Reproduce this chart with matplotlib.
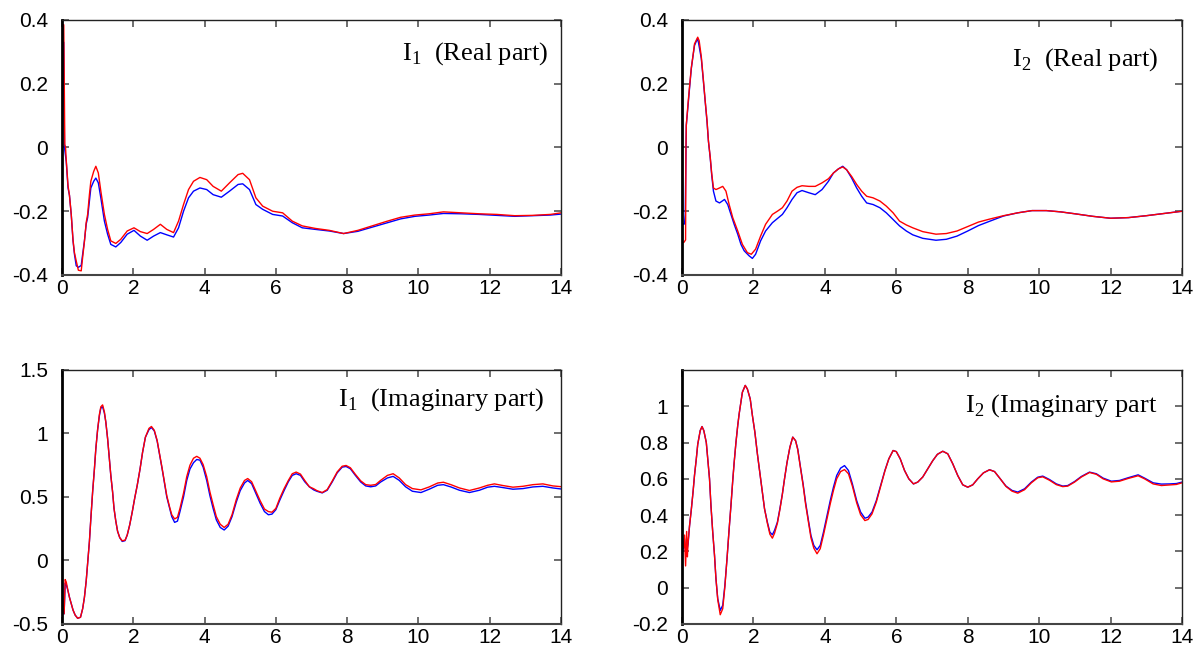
import matplotlib
matplotlib.use("Agg")
import matplotlib.pyplot as plt

plt.rcParams["font.family"] = ["Liberation Sans", "DejaVu Sans"]
plt.rcParams["axes.unicode_minus"] = False
plt.rcParams["mathtext.fontset"] = "custom"
plt.rcParams["mathtext.rm"] = "Liberation Serif"

# ---- I1 real part ----
x_r1_blue = [0, 0.03, 0.05, 0.07, 0.12, 0.17, 0.21, 0.26, 0.31, 0.35, 0.40, 0.46, 0.54, 0.58, 0.63,
             0.68, 0.72, 0.77, 0.81, 0.89, 0.95, 1.02, 1.09, 1.19, 1.28, 1.37, 1.51, 1.65, 1.83, 2.02,
             2.2, 2.39, 2.57, 2.76, 2.94, 3.13, 3.27, 3.41, 3.55, 3.69, 3.87, 4.06, 4.24, 4.47, 4.7,
             4.94, 5.07, 5.26, 5.44, 5.63, 5.91, 6.19, 6.46, 6.74, 7.11, 7.5, 7.9, 8.3, 8.7, 9.1,
             9.5, 9.9, 10.3, 10.7, 11.2, 11.7, 12.2, 12.7, 13.2, 13.7, 14.0]
r1_blue = [0.0, 0.33, 0.33, 0.0, -0.044, -0.127, -0.15, -0.21, -0.293, -0.335, -0.371, -0.376, -0.37, -0.335, -0.293,
           -0.24, -0.22, -0.168, -0.127, -0.106, -0.096, -0.111, -0.158, -0.231, -0.272, -0.304, -0.312, -0.298, -0.272, -0.26,
           -0.278, -0.291, -0.278, -0.267, -0.274, -0.281, -0.252, -0.2, -0.158, -0.137, -0.127, -0.132, -0.148, -0.156, -0.137,
           -0.116, -0.114, -0.132, -0.179, -0.194, -0.21, -0.215, -0.236, -0.252, -0.257, -0.262, -0.27, -0.263, -0.25, -0.237,
           -0.224, -0.216, -0.212, -0.207, -0.208, -0.21, -0.213, -0.216, -0.214, -0.212, -0.209]

x_r1_red = [0, 0.02, 0.05, 0.08, 0.1, 0.12] + x_r1_blue[5:]
r1_red = [0.36, 0.385, 0.385, 0.01, 0.0, -0.04, -0.12, -0.15, -0.21, -0.29, -0.33,
          -0.356, -0.385, -0.387, -0.345, -0.295, -0.235, -0.21, -0.148, -0.106, -0.075,
          -0.059, -0.08, -0.137, -0.21, -0.257, -0.293, -0.301, -0.288, -0.262, -0.252,
          -0.264, -0.27, -0.257, -0.241, -0.257, -0.267, -0.231, -0.179, -0.132, -0.106,
          -0.094, -0.101, -0.122, -0.137, -0.111, -0.085, -0.081, -0.101, -0.158, -0.184,
          -0.2, -0.205, -0.231, -0.246, -0.254, -0.26, -0.27, -0.26, -0.246, -0.232,
          -0.219, -0.212, -0.208, -0.202, -0.205, -0.208, -0.21, -0.214, -0.213, -0.21, -0.205]

# ---- I2 real part ----
x_r2_blue = [0, 0.01, 0.07, 0.09, 0.12, 0.17, 0.21, 0.26, 0.31, 0.35, 0.43, 0.46, 0.54, 0.6, 0.65,
             0.7, 0.74, 0.79, 0.83, 0.88, 0.95, 1.05, 1.19, 1.28, 1.37, 1.46, 1.56, 1.65, 1.74, 1.88,
             1.97, 2.06, 2.2, 2.34, 2.53, 2.67, 2.81, 2.94, 3.08, 3.22, 3.36, 3.55, 3.73, 3.92, 4.1,
             4.24, 4.38, 4.5, 4.61, 4.75, 4.89, 5.03, 5.17, 5.35, 5.54, 5.72, 5.91, 6.09, 6.28, 6.46,
             6.74, 7.11, 7.4, 7.7, 8.0, 8.3, 8.6, 9.0, 9.4, 9.8, 10.2, 10.6, 11.0, 11.5, 12.0,
             12.5, 13.0, 13.5, 14.0]
r2_blue = [0.008, -0.24, -0.24, -0.21, 0.07, 0.133, 0.185, 0.247, 0.289, 0.32, 0.341, 0.33, 0.279, 0.206, 0.143,
           0.081, 0.019, -0.033, -0.085, -0.137, -0.168, -0.174, -0.163, -0.179, -0.21, -0.241, -0.272, -0.304, -0.324, -0.34,
           -0.348, -0.335, -0.293, -0.262, -0.236, -0.223, -0.21, -0.189, -0.163, -0.142, -0.135, -0.142, -0.148, -0.132, -0.106,
           -0.08, -0.067, -0.059, -0.07, -0.096, -0.127, -0.153, -0.174, -0.179, -0.189, -0.205, -0.226, -0.246, -0.262, -0.274,
           -0.285, -0.291, -0.288, -0.278, -0.262, -0.245, -0.232, -0.215, -0.205, -0.198, -0.198, -0.202, -0.208, -0.216, -0.222,
           -0.22, -0.214, -0.207, -0.2]

x_r2_red = [0, 0.05, 0.1, 0.11, 0.12, 0.17, 0.21, 0.26, 0.31, 0.35, 0.44, 0.48, 0.54, 0.6, 0.65,
            0.7, 0.74, 0.79, 0.83, 0.88, 0.95, 1.05, 1.14, 1.23, 1.32, 1.42, 1.56, 1.69, 1.83, 1.94,
            2.06, 2.2, 2.34, 2.53, 2.67, 2.81, 2.94, 3.08, 3.22, 3.36, 3.55, 3.73, 3.92, 4.1, 4.24,
            4.38, 4.5, 4.61, 4.75, 4.89, 5.03, 5.17, 5.35, 5.54, 5.72, 5.91, 6.09, 6.28, 6.46, 6.74,
            7.11, 7.4, 7.7, 8.0, 8.3, 8.6, 9.0, 9.4, 9.8, 10.2, 10.6, 11.0, 11.5, 12.0, 12.5,
            13.0, 13.5, 14.0]
r2_red = [-0.298, -0.298, -0.29, 0.0, 0.07, 0.14, 0.19, 0.25, 0.29, 0.325, 0.346, 0.335, 0.285, 0.21, 0.145,
          0.085, 0.02, -0.03, -0.08, -0.127, -0.132, -0.127, -0.122, -0.137, -0.179, -0.22, -0.262, -0.304, -0.33, -0.335,
          -0.319, -0.278, -0.241, -0.21, -0.2, -0.189, -0.168, -0.137, -0.125, -0.12, -0.122, -0.122, -0.111, -0.098, -0.08,
          -0.067, -0.061, -0.07, -0.091, -0.116, -0.137, -0.153, -0.158, -0.168, -0.184, -0.205, -0.231, -0.243, -0.252, -0.264,
          -0.272, -0.27, -0.262, -0.248, -0.234, -0.225, -0.214, -0.205, -0.198, -0.198, -0.202, -0.208, -0.216, -0.222, -0.22,
          -0.214, -0.207, -0.2]

# ---- I1 imaginary part ----
x_i1 = [0, 0.02, 0.06, 0.09, 0.12, 0.17, 0.21, 0.26, 0.31, 0.37, 0.44, 0.52, 0.58, 0.63, 0.68,
        0.72, 0.77, 0.81, 0.86, 0.91, 0.95, 1.0, 1.05, 1.09, 1.14, 1.19, 1.23, 1.28, 1.32, 1.37,
        1.42, 1.46, 1.51, 1.56, 1.62, 1.69, 1.77, 1.83, 1.9, 1.97, 2.04, 2.11, 2.19, 2.26, 2.34,
        2.44, 2.51, 2.59, 2.67, 2.74, 2.81, 2.87, 2.94, 3.02, 3.08, 3.16, 3.24, 3.31, 3.41, 3.5,
        3.59, 3.69, 3.78, 3.87, 3.96, 4.06, 4.15, 4.24, 4.33, 4.44, 4.55, 4.66, 4.77, 4.89, 5.0,
        5.12, 5.21, 5.32, 5.44, 5.56, 5.68, 5.79, 5.89, 6.0, 6.11, 6.23, 6.35, 6.46, 6.57, 6.69,
        6.81, 6.94, 7.06, 7.15, 7.3, 7.44, 7.58, 7.72, 7.86, 7.97, 8.09, 8.23, 8.38, 8.52, 8.66,
        8.8, 8.94, 9.13, 9.29, 9.46, 9.64, 9.83, 10.07, 10.3, 10.54, 10.7, 10.91, 11.15, 11.43, 11.71,
        11.94, 12.13, 12.37, 12.65, 12.93, 13.21, 13.49, 13.77, 14.0]
i1_blue = [0, -0.34, -0.42, -0.18, -0.19, -0.24, -0.29, -0.34, -0.39, -0.43, -0.455, -0.447, -0.38, -0.29, -0.16,
           -0.02, 0.15, 0.33, 0.54, 0.72, 0.88, 1.03, 1.14, 1.2, 1.21, 1.16, 1.09, 0.96, 0.83, 0.67,
           0.54, 0.41, 0.31, 0.23, 0.18, 0.15, 0.156, 0.2, 0.28, 0.38, 0.49, 0.59, 0.72, 0.85, 0.97,
           1.03, 1.047, 1.02, 0.94, 0.83, 0.72, 0.62, 0.5, 0.41, 0.345, 0.3, 0.31, 0.385, 0.5, 0.63,
           0.72, 0.77, 0.795, 0.79, 0.735, 0.63, 0.51, 0.41, 0.32, 0.26, 0.24, 0.27, 0.345, 0.46, 0.55,
           0.61, 0.63, 0.605, 0.527, 0.45, 0.385, 0.36, 0.365, 0.4, 0.475, 0.55, 0.62, 0.67, 0.683, 0.67,
           0.62, 0.58, 0.556, 0.545, 0.532, 0.553, 0.618, 0.69, 0.735, 0.74, 0.722, 0.67, 0.618, 0.587, 0.58,
           0.587, 0.618, 0.65, 0.662, 0.631, 0.58, 0.545, 0.535, 0.561, 0.592, 0.597, 0.579, 0.553, 0.535, 0.553,
           0.577, 0.584, 0.574, 0.561, 0.566, 0.579, 0.584, 0.571, 0.563]
i1_red = [0, -0.36, -0.42, -0.15, -0.17, -0.24, -0.29, -0.34, -0.39, -0.43, -0.455, -0.447, -0.38, -0.29, -0.16,
          -0.02, 0.15, 0.33, 0.54, 0.72, 0.88, 1.03, 1.15, 1.21, 1.225, 1.17, 1.09, 0.96, 0.83, 0.67,
          0.54, 0.41, 0.31, 0.23, 0.18, 0.155, 0.16, 0.2, 0.28, 0.38, 0.49, 0.59, 0.72, 0.85, 0.97,
          1.04, 1.055, 1.025, 0.945, 0.835, 0.725, 0.625, 0.51, 0.42, 0.36, 0.327, 0.34, 0.41, 0.53, 0.66,
          0.75, 0.805, 0.82, 0.805, 0.755, 0.66, 0.54, 0.44, 0.345, 0.285, 0.26, 0.285, 0.36, 0.48, 0.57,
          0.63, 0.645, 0.62, 0.545, 0.47, 0.405, 0.385, 0.38, 0.41, 0.49, 0.565, 0.63, 0.683, 0.696, 0.68,
          0.63, 0.58, 0.565, 0.55, 0.535, 0.558, 0.625, 0.697, 0.742, 0.748, 0.73, 0.678, 0.627, 0.597, 0.592,
          0.598, 0.631, 0.67, 0.683, 0.65, 0.597, 0.566, 0.556, 0.579, 0.61, 0.616, 0.597, 0.571, 0.551, 0.571,
          0.592, 0.603, 0.59, 0.577, 0.584, 0.597, 0.603, 0.587, 0.581]

# ---- I2 imaginary part ----
x_i2 = [0, 0.01, 0.04, 0.07, 0.1, 0.13, 0.15, 0.17, 0.21, 0.26, 0.31, 0.35, 0.4, 0.44, 0.51,
        0.56, 0.61, 0.68, 0.72, 0.77, 0.81, 0.86, 0.91, 0.95, 1.0, 1.07, 1.14, 1.2, 1.26, 1.32,
        1.37, 1.42, 1.46, 1.51, 1.56, 1.6, 1.65, 1.69, 1.77, 1.83, 1.91, 1.97, 2.04, 2.11, 2.19,
        2.25, 2.31, 2.39, 2.46, 2.53, 2.59, 2.67, 2.74, 2.81, 2.87, 2.94, 3.02, 3.1, 3.18, 3.24,
        3.31, 3.39, 3.46, 3.54, 3.61, 3.69, 3.78, 3.87, 3.96, 4.06, 4.15, 4.24, 4.33, 4.44, 4.55,
        4.66, 4.77, 4.89, 5.0, 5.12, 5.21, 5.32, 5.44, 5.56, 5.68, 5.79, 5.91, 6.0, 6.11, 6.23,
        6.35, 6.48, 6.6, 6.74, 6.88, 7.02, 7.15, 7.3, 7.44, 7.58, 7.72, 7.86, 8.0, 8.14, 8.28,
        8.44, 8.61, 8.75, 8.91, 9.07, 9.24, 9.4, 9.59, 9.78, 9.96, 10.1, 10.29, 10.48, 10.66, 10.8,
        10.99, 11.18, 11.41, 11.6, 11.79, 12.02, 12.25, 12.49, 12.77, 12.95, 13.19, 13.42, 13.65, 13.84, 14.0]
i2_blue = [0.215, 0.215, 0.215, 0.27, 0.2, 0.18, 0.22, 0.24, 0.34, 0.43, 0.53, 0.62, 0.71, 0.79, 0.866,
           0.888, 0.866, 0.8, 0.71, 0.6, 0.453, 0.306, 0.178, 0.05, -0.06, -0.125, -0.097, 0.013, 0.16, 0.325,
           0.453, 0.59, 0.69, 0.8, 0.894, 0.958, 1.022, 1.077, 1.115, 1.095, 1.04, 0.95, 0.857, 0.738, 0.618,
           0.527, 0.435, 0.361, 0.306, 0.292, 0.316, 0.361, 0.435, 0.517, 0.6, 0.69, 0.774, 0.83, 0.81, 0.765,
           0.673, 0.572, 0.47, 0.37, 0.288, 0.233, 0.209, 0.233, 0.306, 0.398, 0.48, 0.554, 0.618, 0.659, 0.673,
           0.646, 0.572, 0.48, 0.417, 0.383, 0.389, 0.417, 0.48, 0.563, 0.646, 0.71, 0.756, 0.75, 0.71, 0.646,
           0.6, 0.572, 0.582, 0.61, 0.655, 0.7, 0.735, 0.752, 0.738, 0.683, 0.618, 0.567, 0.554, 0.567, 0.6,
           0.633, 0.65, 0.64, 0.6, 0.56, 0.536, 0.527, 0.545, 0.582, 0.609, 0.615, 0.596, 0.572, 0.56, 0.563,
           0.585, 0.613, 0.637, 0.628, 0.604, 0.587, 0.591, 0.606, 0.622, 0.604, 0.578, 0.571, 0.572, 0.574, 0.582]
i2_red = [0.0, 0.22, 0.22, 0.29, 0.12, 0.31, 0.17, 0.25, 0.34, 0.43, 0.53, 0.62, 0.71, 0.79, 0.866,
          0.888, 0.866, 0.8, 0.71, 0.6, 0.453, 0.306, 0.178, 0.05, -0.065, -0.149, -0.116, 0.005, 0.16, 0.325,
          0.453, 0.59, 0.69, 0.8, 0.894, 0.958, 1.022, 1.077, 1.115, 1.095, 1.04, 0.95, 0.857, 0.738, 0.618,
          0.527, 0.435, 0.355, 0.295, 0.273, 0.3, 0.355, 0.43, 0.515, 0.6, 0.69, 0.774, 0.83, 0.81, 0.76,
          0.668, 0.565, 0.46, 0.36, 0.275, 0.218, 0.187, 0.215, 0.29, 0.38, 0.462, 0.536, 0.6, 0.64, 0.651,
          0.628, 0.56, 0.468, 0.402, 0.37, 0.376, 0.407, 0.472, 0.558, 0.643, 0.71, 0.756, 0.75, 0.71, 0.646,
          0.6, 0.572, 0.582, 0.61, 0.655, 0.7, 0.735, 0.752, 0.738, 0.683, 0.618, 0.567, 0.554, 0.567, 0.6,
          0.633, 0.65, 0.64, 0.6, 0.558, 0.532, 0.521, 0.54, 0.578, 0.606, 0.611, 0.592, 0.568, 0.557, 0.56,
          0.582, 0.61, 0.635, 0.625, 0.6, 0.583, 0.587, 0.602, 0.617, 0.6, 0.572, 0.563, 0.566, 0.569, 0.578]

x_ticks = [0, 2, 4, 6, 8, 10, 12, 14]
yticks_real = [-0.4, -0.2, 0, 0.2, 0.4]
ylabels_real = ["-0.4", "-0.2", "0", "0.2", "0.4"]
yticks_i1 = [-0.5, 0, 0.5, 1, 1.5]
ylabels_i1 = ["-0.5", "0", "0.5", "1", "1.5"]
yticks_i2 = [-0.2, 0, 0.2, 0.4, 0.6, 0.8, 1]
ylabels_i2 = ["-0.2", "0", "0.2", "0.4", "0.6", "0.8", "1"]

titles = [r"I$_{1}$  (Real part)", r"I$_{2}$  (Real part)",
          r"I$_{1}$  (Imaginary part)", r"I$_{2}$ (Imaginary part"]

fig = plt.figure(figsize=(11.94, 6.51), dpi=100)
boxes = [
    [0.0519, 0.5776, 0.418, 0.3917],
    [0.5712, 0.5776, 0.4188, 0.3917],
    [0.0519, 0.0415, 0.418, 0.3902],
    [0.5712, 0.0415, 0.4188, 0.3902],
]
panels = [
    (x_r1_blue, r1_blue, x_r1_red, r1_red, (-0.4, 0.4), yticks_real, ylabels_real, (0.974, 0.846)),
    (x_r2_blue, r2_blue, x_r2_red, r2_red, (-0.4, 0.4), yticks_real, ylabels_real, (0.952, 0.821)),
    (x_i1, i1_blue, x_i1, i1_red, (-0.5, 1.5), yticks_i1, ylabels_i1, (0.968, 0.858)),
    (x_i2, i2_blue, x_i2, i2_red, (-0.2, 1.2), yticks_i2, ylabels_i2, (0.95, 0.836)),
]

for box, panel, title in zip(boxes, panels, titles):
    xb, yb, xr, yr, ylim, yt, ylab, tpos = panel
    ax = fig.add_axes(box)
    ax.plot(xb, yb, color="#0000ff", lw=1.0)
    ax.plot(xr, yr, color="#ff0000", lw=1.0)
    ax.set_xlim(0, 14)
    ax.set_ylim(*ylim)
    ax.set_xticks(x_ticks)
    ax.set_xticklabels([str(t) for t in x_ticks])
    ax.set_yticks(yt)
    ax.set_yticklabels(ylab)
    ax.tick_params(direction="in", length=5, width=1.2, color="#555555",
                   top=True, right=True, labelsize=15)
    ax.tick_params(axis="x", pad=3)
    ax.tick_params(axis="y", pad=10)
    for side in ["top", "right"]:
        ax.spines[side].set_linewidth(1.0)
        ax.spines[side].set_color("#222222")
    ax.spines["left"].set_linewidth(2.0)
    ax.spines["left"].set_color("black")
    ax.spines["bottom"].set_linewidth(1.5)
    ax.spines["bottom"].set_color("#444444")
    ax.text(tpos[0], tpos[1], title, transform=ax.transAxes, ha="right", va="baseline",
            fontsize=19, family="Liberation Serif")

fig.savefig("out.png", dpi=100)
